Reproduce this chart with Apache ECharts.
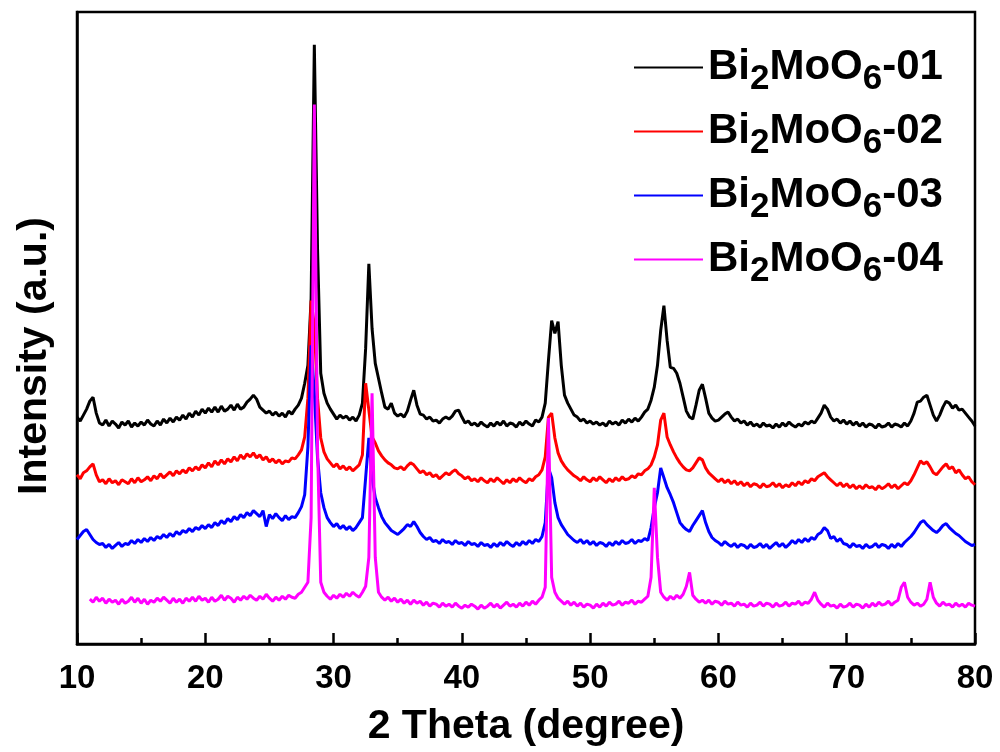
<!DOCTYPE html>
<html>
<head>
<meta charset="utf-8">
<script src="https://cdn.jsdelivr.net/npm/echarts@6/dist/echarts.min.js"></script>
<style>
html,body{margin:0;padding:0;background:#fff;}
#chart{width:1000px;height:752px;}
</style>
</head>
<body>
<div id="chart"></div>
<script>
// Sampling of 2-theta (degree): value i is at angleStart + i*angleStep
const angleStart = 10;
const angleStep = 0.25;
const xTicks = [10, 20, 30, 40, 50, 60, 70, 80];
const seriesNames = ['Bi2MoO6-01', 'Bi2MoO6-02', 'Bi2MoO6-03', 'Bi2MoO6-04'];

// Intensities (a.u., stacked offsets as drawn), one group per degree (x.00, x.25, x.50, x.75)
const s01 = [
228,224,230,236, 244,248,232,222, 220,225,219,224, 221,217,223,220, 224,218,222,219,
223,220,225,221, 219,224,220,226, 222,227,223,228, 225,230,226,232, 228,234,230,236,
232,237,233,238, 233,239,234,236, 240,235,241,236, 238,243,246,250, 246,238,235,232,
234,230,233,229, 232,228,234,231, 236,240,247,262, 280,347,602,397, 272,252,242,236,
231,226,230,227, 229,225,228,224, 230,242,297,382, 317,282,267,252, 238,236,242,232,
229,231,228,234, 245,255,240,231, 230,226,228,224, 225,222,226,228, 226,229,234,235,
228,222,224,220, 222,219,223,220, 218,222,219,223, 220,224,219,222, 221,218,223,220,
224,221,219,225, 223,228,242,285, 325,312,324,280, 250,242,236,230, 228,224,226,222,
224,221,223,220, 222,219,224,221, 223,220,225,222, 226,223,227,224, 228,233,236,245,
258,280,315,340, 305,278,277,272, 262,248,234,228, 226,240,255,261, 247,232,227,224,
225,228,231,233, 228,224,226,222, 224,220,223,219, 221,218,222,219, 220,217,221,218,
222,219,223,220, 218,221,219,223, 221,224,222,227, 232,240,236,228, 224,226,222,225,
221,224,220,223, 219,222,218,221, 220,217,221,218, 219,222,218,221, 220,218,222,219,
224,232,243,244, 248,250,240,230, 224,230,238,244, 242,237,240,235, 236,232,228,224,
219
];
const s02 = [
170,166,172,174, 178,181,170,163, 165,161,166,162, 164,160,165,163, 161,166,162,167,
163,165,168,164, 169,166,171,167, 170,173,169,174, 171,175,172,177, 174,178,175,180,
177,182,178,184, 180,185,181,186, 183,188,184,190, 186,191,188,192, 187,190,185,188,
183,186,182,185, 181,184,183,187, 186,190,195,208, 247,345,320,247, 207,193,186,182,
178,181,176,179, 175,178,174,177, 180,190,262,235, 208,202,194,189, 185,182,180,177,
176,178,175,179, 182,180,176,172, 174,170,172,168, 170,166,169,172, 170,173,175,171,
169,166,168,164, 166,163,167,164, 162,166,163,167, 164,161,165,162, 166,163,167,164,
162,166,164,168, 170,175,188,228, 232,207,192,184, 179,175,172,169, 167,164,168,165,
163,167,164,168, 165,162,166,163, 167,164,168,165, 166,169,167,171, 170,174,176,180,
188,200,225,232, 208,200,193,187, 182,178,175,174, 177,182,187,185, 177,172,169,166,
163,166,162,165, 161,164,160,163, 159,162,158,161, 160,157,161,158, 159,162,158,161,
157,160,158,162, 159,163,160,164, 162,166,164,168, 170,172,168,165, 162,159,162,158,
161,157,160,156, 159,156,160,157, 158,155,159,156, 158,161,157,160, 156,159,162,160,
164,170,177,184, 181,183,178,172, 170,174,178,181, 176,178,172,175, 170,166,168,163,
160
];
const s03 = [
105,109,113,115, 110,105,102,100, 101,97,100,96, 99,102,98,101, 100,104,101,105,
102,106,103,107, 104,108,106,110, 107,111,108,113, 110,114,112,116, 113,117,115,119,
116,120,117,122, 119,124,121,126, 123,128,125,130, 127,132,129,134, 131,128,134,118,
130,126,131,127, 124,129,125,128, 127,132,138,150, 198,300,252,187, 152,137,127,122,
118,121,116,119, 115,118,114,117, 122,127,167,207, 167,147,137,128, 122,118,114,112,
110,113,116,120, 118,123,118,112, 108,105,107,103, 104,101,105,102, 103,100,104,101,
102,99,103,100, 101,98,102,99, 100,97,101,98, 102,99,103,100, 98,102,99,103,
100,104,101,105, 103,108,122,177, 167,142,127,120, 115,110,107,104, 102,105,101,104,
100,103,99,102, 101,98,102,99, 103,100,104,101, 102,105,101,104, 103,106,104,117,
137,152,177,167, 157,150,142,132, 122,118,115,113, 119,124,129,134, 122,113,107,104,
102,99,103,100, 98,101,97,100, 99,96,100,97, 98,101,97,100, 96,99,102,98,
101,97,100,104, 101,105,102,106, 103,107,105,110, 112,117,114,106, 108,103,106,101,
100,97,101,98, 99,96,100,97, 98,101,97,100, 99,96,100,97, 101,98,102,105,
108,112,117,122, 124,120,117,114, 112,115,119,121, 117,114,111,109, 106,103,101,99,
100
];
const s04 = [
null,null,null,null, 45,42,47,43, 46,41,45,42, 44,40,45,41, 43,47,42,46,
41,45,40,44, 42,46,43,47, 44,41,46,42, 45,41,46,43, 47,43,48,44,
46,42,47,43, 45,49,44,48, 46,42,47,44, 48,45,49,46, 44,48,45,50,
46,43,47,44, 48,45,49,47, 46,50,52,57, 62,127,542,197, 62,52,48,45,
49,46,50,47, 51,48,52,49, 47,52,58,87, 252,87,52,47, 44,47,43,46,
42,45,41,44, 40,44,41,43, 39,42,38,41, 40,37,41,38, 40,37,41,38,
36,39,37,40, 38,35,39,36, 38,41,37,40, 36,39,42,38, 40,37,41,38,
42,39,43,40, 44,47,57,227, 67,52,46,43, 40,43,39,42, 38,41,37,40,
39,36,40,37, 41,38,42,39, 40,43,39,42, 41,44,40,43, 42,45,48,67,
157,87,52,47, 44,48,45,49, 46,50,58,72, 49,45,42,44, 41,44,40,43,
42,39,43,40, 41,38,42,39, 40,37,41,38, 39,42,38,41, 40,37,41,38,
39,42,38,41, 40,43,39,42, 41,45,52,44, 40,37,41,38, 39,36,40,37,
38,41,37,40, 39,36,40,37, 41,38,42,39, 40,43,39,42, 44,57,62,47,
42,39,41,38, 40,45,62,47, 41,38,42,39, 40,37,41,38, 40,37,41,39,
38
];
const seriesValues = [s01, s02, s03, s04];
const seriesColors = ['#000000', '#ff0000', '#0000ff', '#ff00ff'];

function toPairs(vals) {
  return vals.map((v, i) => [angleStart + i * angleStep, v]);
}

const chart = echarts.init(document.getElementById('chart'), null, {renderer: 'canvas'});
const FONT = '"Liberation Sans", Arial, sans-serif';

const option = {
  animation: false,
  backgroundColor: '#ffffff',
  grid: {
    left: 77, right: 25, top: 12, bottom: 105,
    show: true, borderColor: '#000', borderWidth: 2.5, backgroundColor: 'transparent'
  },
  legend: {
    orient: 'vertical',
    left: 629,
    top: 33,
    itemWidth: 69,
    itemHeight: 14,
    itemGap: 5,
    icon: 'path://M0,6 L69,6 L69,8 L0,8 Z',
    data: seriesNames,
    formatter: function (name) {
      const suffix = name.split('-')[1];
      return '{n|Bi}{s|2}{n|MoO}{s|6}{n|-' + suffix + '}';
    },
    textStyle: {
      color: '#000',
      rich: {
        n: {fontFamily: FONT, fontWeight: 'bold', fontSize: 42, lineHeight: 58, color: '#000'},
        s: {fontFamily: FONT, fontWeight: 'bold', fontSize: 35, lineHeight: 34, padding: [24, 0, 0, 0], color: '#000'}
      }
    }
  },
  xAxis: {
    type: 'value',
    min: 10, max: 80, interval: 10,
    name: '2 Theta (degree)',
    nameLocation: 'middle',
    nameGap: 62,
    nameTextStyle: {fontFamily: FONT, fontWeight: 'bold', fontSize: 41, color: '#000'},
    axisLine: {show: true, onZero: false, lineStyle: {color: '#000', width: 2.5}},
    axisTick: {show: true, inside: true, length: 11, lineStyle: {color: '#000', width: 2.5}},
    minorTick: {show: true, splitNumber: 2, length: 6, lineStyle: {color: '#000', width: 2.5}},
    axisLabel: {
      fontFamily: FONT, fontWeight: 'bold', fontSize: 33, color: '#000', margin: 18,
      formatter: function (v) { return xTicks.indexOf(v) >= 0 ? String(v) : ''; }
    },
    splitLine: {show: false}
  },
  yAxis: {
    type: 'value',
    min: 0, max: 635,
    name: 'Intensity (a.u.)',
    nameLocation: 'middle',
    nameGap: 22,
    nameRotate: 90,
    nameTextStyle: {fontFamily: FONT, fontWeight: 'bold', fontSize: 41, color: '#000', padding: [0, 56, 0, 0]},
    axisLine: {show: true, lineStyle: {color: '#000', width: 2.5}},
    axisTick: {show: false},
    axisLabel: {show: false},
    splitLine: {show: false}
  },
  series: seriesNames.map((name, k) => ({
    name: name,
    type: 'line',
    data: toPairs(seriesValues[k]),
    showSymbol: false,
    symbol: 'none',
    connectNulls: false,
    color: seriesColors[k],
    lineStyle: {color: seriesColors[k], width: 3},
    silent: true,
    z: 2 + k
  }))
};
chart.setOption(option);
</script>
</body>
</html>
